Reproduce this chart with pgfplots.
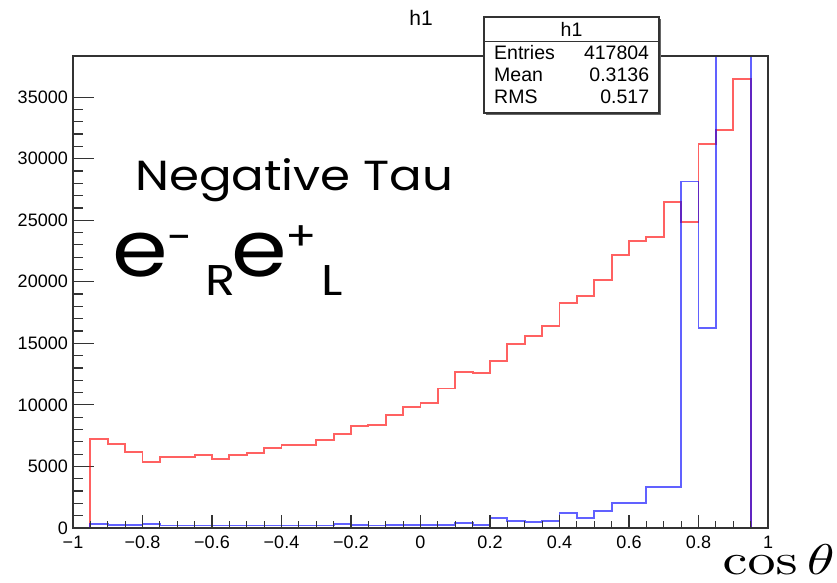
\documentclass[border=0pt]{standalone}
\usepackage{graphicx}
\usepackage{pgfplots}
\pgfplotsset{compat=1.18}
\usepackage[no-math]{fontspec}
\setmainfont{Liberation Sans}
\newfontfamily\geo[FakeStretch=1.15]{Poppins}
\begin{document}
\begin{tikzpicture}[x=1pt,y=1pt]
\path[use as bounding box] (-73,-54) rectangle (764,528);
\pgfplotsset{rootaxis/.style={at={(0,0)}, anchor=south west, scale only axis,
  width=695pt, height=472pt,
  xmin=-1, xmax=1, ymin=0, ymax=38340,
  axis line style={draw=black!80, line width=1.2pt},
  tick style={draw=black!80, line width=1.2pt},
  tick align=inside, xtick pos=bottom, ytick pos=left,
  /pgf/number format/1000 sep={},
  /pgf/number format/assume math mode=true,
  ticklabel style={font=\fontsize{18}{21}\selectfont},
  yticklabel style={inner xsep=0pt, xshift=-5pt},
  xticklabel style={inner ysep=0pt, yshift=-8pt},
}}
\begin{axis}[rootaxis,
  xtick=\empty,
  ytick={0,5000,10000,15000,20000,25000,30000,35000},
  minor y tick num=4,
  scaled y ticks=false,
  major tick length=21pt, minor tick length=10pt,
]
\addplot[const plot, draw=red, draw opacity=0.62, line width=1.8pt] coordinates {
(-1,0) (-0.95,7230) (-0.9,6800) (-0.85,6200) (-0.8,5340) (-0.75,5740) (-0.7,5740)
(-0.65,5930) (-0.6,5600) (-0.55,5930) (-0.5,6120) (-0.45,6530) (-0.4,6770) (-0.35,6770)
(-0.3,7150) (-0.25,7610) (-0.2,8270) (-0.15,8390) (-0.1,9180) (-0.05,9800) (0,10160)
(0.05,11330) (0.1,12660) (0.15,12590) (0.2,13560) (0.25,14970) (0.3,15600) (0.35,16430)
(0.4,18300) (0.45,18850) (0.5,20170) (0.55,22180) (0.6,23310) (0.65,23620) (0.7,26460)
(0.75,24850) (0.8,31220) (0.85,32360) (0.9,36500) (0.95,0) (1,0)};
\addplot[const plot, draw=blue, draw opacity=0.62, line width=1.8pt] coordinates {
(-1,0) (-0.95,320) (-0.9,230) (-0.85,230) (-0.8,300) (-0.75,200) (-0.7,200)
(-0.65,200) (-0.6,200) (-0.55,200) (-0.5,200) (-0.45,200) (-0.4,200) (-0.35,200)
(-0.3,200) (-0.25,300) (-0.2,250) (-0.15,200) (-0.1,250) (-0.05,250) (0,250)
(0.05,270) (0.1,375) (0.15,270) (0.2,840) (0.25,565) (0.3,460) (0.35,565)
(0.4,1190) (0.45,810) (0.5,1400) (0.55,2020) (0.6,2020) (0.65,3330) (0.7,3330)
(0.75,28150) (0.8,16250) (0.85,80000) (0.9,90000) (0.95,0) (1,0)};
\end{axis}
\begin{axis}[rootaxis,
  hide y axis,
  xtick={-1,-0.8,-0.6,-0.4,-0.2,0,0.2,0.4,0.6,0.8,1},
  xticklabels={−1,−0.8,−0.6,−0.4,−0.2,0,0.2,0.4,0.6,0.8,1},
  minor x tick num=3,
  major tick length=13pt, minor tick length=7pt,
]
\end{axis}
% title
\node[anchor=base, font=\fontsize{21}{24}\selectfont, inner sep=0pt] at (348,502) {h1};
% stats box
\fill[black!60] (413,413) rectangle (588,509);
\fill[white] (411,415) rectangle (586,511);
\draw[black!80, line width=1.2pt] (411,415) rectangle (586,511);
\draw[black!80, line width=1.2pt] (411,486.3) -- (586,486.3);
\begin{scope}[every node/.style={font=\fontsize{19.5}{22}\selectfont, inner sep=0pt}]
\node[anchor=base] at (498.5,491.3) {h1};
\node[anchor=base west] at (421,468) {Entries};
\node[anchor=base east] at (576.3,468) {417804};
\node[anchor=base west] at (421,446.3) {Mean};
\node[anchor=base east] at (576.3,446.3) {0.3136};
\node[anchor=base west] at (421,424.7) {RMS};
\node[anchor=base east] at (576.3,424.7) {0.517};
\end{scope}
% annotations
\begin{scope}[every node/.style={inner sep=0pt}]
\node[anchor=base west, font=\geo\fontsize{42}{46}\selectfont] at (62,337.3) {Negative Tau};
\node[anchor=base west, font=\geo\fontsize{78}{86}\selectfont] at (39,251.3) {e};
\node[anchor=center, font=\geo\fontsize{40}{44}\selectfont] at (107.5,285) {-};
\node[anchor=base west, font=\geo\fontsize{43}{48}\selectfont] at (132,233) {R};
\node[anchor=base west, font=\geo\fontsize{78}{86}\selectfont] at (158,251.3) {e};
\node[anchor=center, font=\geo\fontsize{40}{44}\selectfont] at (228.5,290) {+};
\node[anchor=base west, font=\geo\fontsize{43}{48}\selectfont] at (248,233) {L};
\node[anchor=base east] at (762,-46) {\scalebox{5.6}[4.3]{$\cos\theta$}};
\end{scope}
\end{tikzpicture}
\end{document}
